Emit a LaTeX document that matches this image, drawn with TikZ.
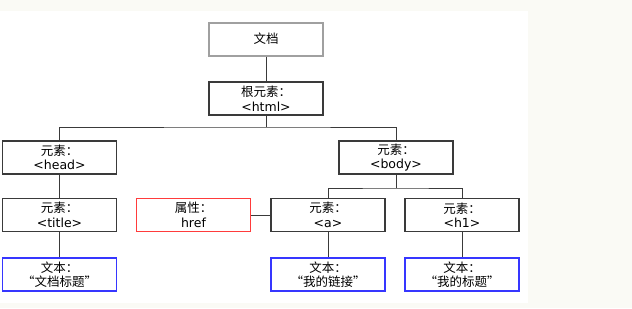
\documentclass[tikz,border=0pt]{standalone}
\usepackage{fontspec}
\setmainfont{DejaVu Sans}
\newfontfamily\cjk{Noto Sans CJK SC}
\definecolor{bgbeige}{HTML}{FAFAF5}
\definecolor{boxline}{HTML}{3A3A3A}
\definecolor{docline}{HTML}{A0A0A0}
\definecolor{attrred}{HTML}{FF3B3B}
\definecolor{textblue}{HTML}{3636FF}
\begin{document}
\begin{tikzpicture}[x=1pt,y=-1pt,
  box/.style={draw=boxline,line width=1.1pt,minimum width=114pt,minimum height=33pt,
    inner sep=0pt,align=center,font=\fontsize{12.5}{14.5}\selectfont,fill=white},
  docbox/.style={box,draw=docline,line width=2pt},
  attrbox/.style={box,draw=attrred},
  txtbox/.style={box,draw=textblue},
  conn/.style={draw=boxline,line width=0.9pt}]
\useasboundingbox (0,0) rectangle (632,308);
\fill[bgbeige] (0,0) rectangle (632,308);
\fill[white] (0,11) rectangle (528,303);
\node[docbox] (doc) at (266,39) {{\cjk 文档}};
\node[box] (root) at (266,98.5) {{\cjk 根元素：}\\<html>};
\node[box] (head) at (59.5,157.5) {{\cjk 元素：}\\<head>};
\node[box] (body) at (396,157.5) {{\cjk 元素：}\\<body>};
\node[box] (title) at (59.5,215) {{\cjk 元素：}\\<title>};
\node[attrbox] (href) at (193.5,215) {{\cjk 属性：}\\href};
\node[box] (a) at (328,215) {{\cjk 元素：}\\<a>};
\node[box] (h1) at (462,215) {{\cjk 元素：}\\<h1>};
\node[txtbox] (t1) at (59.5,274.5) {{\cjk 文本：}\\{\cjk “文档标题”}};
\node[txtbox] (t2) at (328,274.5) {{\cjk 文本：}\\{\cjk “我的链接”}};
\node[txtbox] (t3) at (462,274.5) {{\cjk 文本：}\\{\cjk “我的标题”}};
\coordinate (j1) at (266,127);
\coordinate (j2) at (396,188);
\draw[conn] (doc) -- (root);
\draw[conn] (root) -- (j1);
\draw[conn] (head.north) |- (j1) -| (body.north);
\draw[conn] (body) -- (j2);
\draw[conn] (a.north) |- (j2) -| (h1.north);
\draw[conn] (head) -- (title);
\draw[conn] (title) -- (t1);
\draw[conn] (a) -- (t2);
\draw[conn] (h1) -- (t3);
\draw[conn] (href) -- (a);
\end{tikzpicture}
\end{document}
